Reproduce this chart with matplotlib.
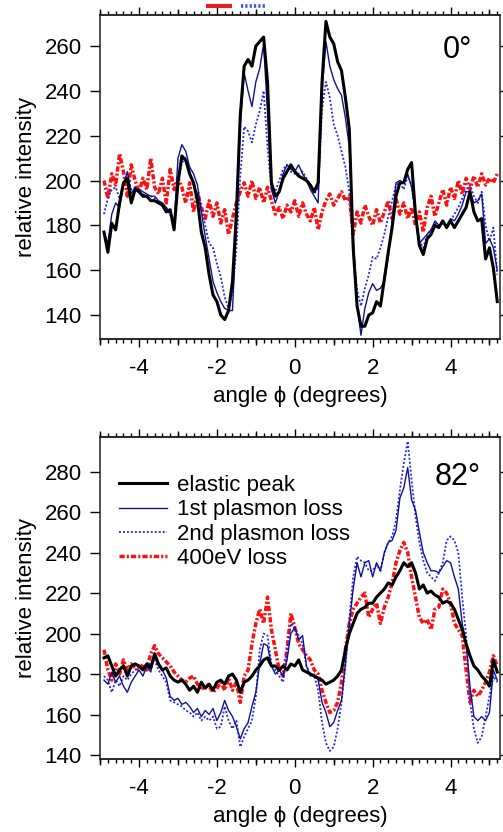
import numpy as np
import matplotlib
matplotlib.use('Agg')
import matplotlib.pyplot as plt
from matplotlib.ticker import FixedLocator, MultipleLocator, NullLocator

plt.rcParams['font.family'] = ['Liberation Sans', 'DejaVu Sans']
plt.rcParams['axes.unicode_minus'] = False

# ---------------- data ----------------
angle = np.round(np.arange(-4.9, 5.25, 0.1), 1)  # degrees, 102 samples

# panel 0 deg
top_elastic = [177, 168, 181, 178, 190, 199, 201, 190, 196, 195,
               193, 193, 191, 191, 190, 189, 186, 187, 178, 199,
               211, 209, 203, 199, 191, 177, 170, 158, 149, 146,
               140, 138, 142, 155, 185, 229, 251, 254, 251, 260,
               262, 264, 244, 199, 193, 195, 201, 204, 207, 204,
               202, 201, 200, 198, 195, 199, 244, 271, 264, 261,
               253, 249, 237, 223, 170, 144, 135, 135, 140, 141,
               146, 144, 156, 168, 179, 193, 199, 199, 205, 208,
               185, 171, 167, 174, 176, 180, 179, 182, 179, 182,
               179, 182, 185, 188, 195, 186, 182, 183, 165, 170,
               161, 146]
top_plasmon1 = [177, 172, 185, 190, 188, 198, 204, 194, 197, 196,
                195, 194, 193, 193, 191, 190, 188, 186, 180, 210,
                216, 213, 206, 203, 198, 186, 175, 165, 155, 150,
                146, 143, 142, 142, 180, 225, 248, 240, 233, 244,
                250, 261, 230, 196, 190, 195, 203, 207, 205, 204,
                207, 203, 200, 196, 193, 190, 240, 262, 251, 245,
                241, 238, 228, 215, 175, 145, 131, 143, 150, 154,
                151, 152, 155, 166, 182, 199, 200, 199, 203, 197,
                186, 172, 174, 176, 178, 182, 180, 181, 180, 183,
                182, 185, 189, 195, 195, 190, 191, 194, 172, 174,
                170, 160]
top_plasmon2 = [185, 192, 196, 197, 192, 198, 203, 196, 197, 195,
                194, 193, 193, 192, 190, 189, 187, 185, 179, 200,
                208, 210, 204, 198, 194, 188, 180, 172, 170, 163,
                157, 148, 143, 150, 170, 202, 224, 222, 217, 225,
                231, 240, 215, 196, 195, 200, 205, 207, 204, 203,
                203, 204, 201, 198, 194, 197, 232, 244, 237, 225,
                220, 213, 206, 195, 169, 151, 144, 152, 158, 166,
                165, 170, 176, 184, 191, 198, 199, 196, 202, 198,
                184, 173, 170, 176, 178, 181, 180, 181, 180, 182,
                185, 188, 192, 196, 198, 193, 190, 195, 180, 173,
                179, 158]
top_loss400 = [200, 192, 203, 198, 212, 204, 193, 207, 200, 195,
               201, 196, 210, 197, 194, 201, 190, 205, 196, 201,
               197, 190, 199, 186, 195, 188, 183, 191, 184, 190,
               181, 187, 176, 183, 190, 195, 199, 193, 200, 192,
               197, 190, 197, 191, 185, 188, 183, 189, 186, 191,
               184, 190, 185, 182, 188, 178, 186, 191, 194, 189,
               192, 195, 191, 193, 176, 186, 181, 189, 184, 180,
               187, 181, 186, 191, 183, 192, 185, 190, 183, 188,
               180, 186, 177, 188, 193, 184, 190, 196, 189, 197,
               192, 200, 194, 201, 196, 202, 197, 203, 198, 201,
               199, 203]

# panel 82 deg
bot_elastic = [188, 189, 184, 179, 182, 184, 179, 184, 185, 184,
               182, 185, 183, 190, 185, 182, 183, 179, 177, 176,
               177, 175, 172, 174, 171, 176, 173, 175, 172, 176,
               177, 175, 179, 180, 177, 171, 176, 177, 179, 182,
               184, 187, 188, 184, 184, 182, 184, 182, 185, 184,
               187, 182, 181, 180, 179, 178, 177, 175, 176, 177,
               179, 182, 192, 200, 205, 210, 212, 213, 215, 215,
               218, 220, 222, 225, 224, 228, 231, 235, 233, 235,
               230, 222, 224, 220, 221, 219, 218, 215, 216, 215,
               212, 207, 202, 195, 189, 184, 182, 179, 177, 174,
               187, 181]
bot_plasmon1 = [177, 175, 181, 176, 179, 174, 171, 176, 179, 182,
                179, 184, 181, 189, 184, 182, 178, 169, 167, 168,
                165, 166, 164, 161, 163, 159, 162, 160, 163, 157,
                161, 167, 162, 159, 154, 148, 153, 156, 164, 171,
                185, 195, 194, 184, 180, 182, 179, 187, 200, 203,
                197, 199, 184, 179, 180, 177, 166, 161, 154, 156,
                162, 167, 185, 205, 222, 235, 228, 235, 236, 228,
                235, 231, 240, 245, 246, 251, 267, 272, 282, 266,
                261, 250, 240, 235, 231, 231, 230, 233, 236, 235,
                228, 222, 205, 195, 174, 159, 157, 159, 157, 161,
                182, 177]
bot_plasmon2 = [179, 177, 171, 177, 174, 179, 177, 180, 182, 184,
                182, 185, 185, 187, 182, 179, 176, 167, 166, 165,
                164, 162, 161, 159, 161, 157, 159, 157, 159, 153,
                154, 164, 157, 153, 157, 144, 149, 153, 157, 169,
                192, 200, 199, 185, 182, 179, 176, 192, 205, 203,
                199, 195, 184, 180, 179, 172, 156, 146, 142, 144,
                153, 166, 184, 207, 228, 238, 236, 235, 231, 231,
                234, 231, 240, 245, 248, 256, 271, 284, 295, 276,
                258, 245, 236, 230, 228, 226, 230, 235, 246, 248,
                246, 240, 218, 199, 166, 153, 146, 149, 159, 169,
                179, 176]
bot_loss400 = [192, 182, 177, 185, 180, 187, 182, 185, 183, 182,
               185, 182, 190, 194, 190, 188, 186, 184, 181, 179,
               177, 176, 178, 179, 175, 172, 175, 174, 171, 173,
               176, 172, 178, 172, 176, 166, 179, 182, 195, 205,
               212, 205, 218, 202, 192, 182, 179, 192, 210, 203,
               195, 192, 189, 187, 182, 180, 172, 166, 161, 162,
               166, 176, 192, 205, 212, 215, 218, 220, 208, 212,
               215, 205, 213, 218, 225, 235, 241, 245, 240, 228,
               218, 208, 205, 207, 202, 212, 213, 222, 220, 215,
               205, 202, 199, 182, 166, 172, 169, 172, 176, 181,
               189, 184]

labels = ['elastic peak', '1st plasmon loss', '2nd plasmon loss', '400eV loss']
xticks = [-4, -2, 0, 2, 4]
top_yticks = [140, 160, 180, 200, 220, 240, 260]
bot_yticks = [140, 160, 180, 200, 220, 240, 260, 280]
red_bar = [-2.27, -1.61]
blue_bar = [-1.39, -0.71]

# ---------------- styles ----------------
st_el = dict(color='black', lw=2.2)
st_p1 = dict(color='#10109a', lw=1.0)
st_p2 = dict(color='#2828f0', lw=1.3, linestyle=(0, (1.1, 1.1)))
st_ls = dict(color='#ff1010', lw=2.5, linestyle=(0, (1.5, 0.6, 0.6, 0.6)))

fig = plt.figure(figsize=(5.03, 8.32), dpi=100)
ax1 = fig.add_axes([0.199, 0.5925, 0.795, 0.3894])
ax2 = fig.add_axes([0.199, 0.0874, 0.795, 0.3874])


def style(ax, ylim, yticks):
    ax.set_xlim(-5.0, 5.27)
    ax.set_ylim(*ylim)
    ax.xaxis.set_major_locator(FixedLocator(xticks))
    ax.xaxis.set_minor_locator(MultipleLocator(0.2))
    ax.yaxis.set_major_locator(FixedLocator(yticks))
    ax.yaxis.set_minor_locator(NullLocator())
    ax.tick_params(axis='x', which='both', top=True, bottom=True, direction='out')
    ax.tick_params(axis='x', which='major', length=5.8, width=1, labelsize=16, pad=7.7)
    ax.tick_params(axis='x', which='minor', length=2.9, width=1)
    ax.tick_params(axis='y', which='major', left=True, right=True, direction='out',
                   length=7.2, width=1, labelsize=16, pad=6)
    for sp in ax.spines.values():
        sp.set_linewidth(1.1)
        sp.set_color('#222222')
    for side in ['top', 'bottom']:
        sec = ax.secondary_xaxis(side)
        sec.xaxis.set_major_locator(FixedLocator([-5, -3, -1, 1, 3, 5]))
        sec.xaxis.set_minor_locator(NullLocator())
        sec.tick_params(length=4.3, width=1, direction='out',
                        labelbottom=False, labeltop=False)
        sec.spines[side].set_linewidth(1.1)
        sec.spines[side].set_color('#222222')
    ax.set_xlabel('angle \u03d5 (degrees)', fontsize=16)
    ax.set_ylabel('relative intensity', fontsize=16)
    ax.xaxis.set_label_coords(0.5, -0.178)
    ax.xaxis.label.set_va('center')
    ax.yaxis.set_label_coords(-0.185, 0.5)
    ax.yaxis.label.set_va('center')


for ax, data in [(ax1, (top_elastic, top_plasmon1, top_plasmon2, top_loss400)),
                 (ax2, (bot_elastic, bot_plasmon1, bot_plasmon2, bot_loss400))]:
    el, p1, p2, ls = data
    ax.plot(angle, el, label=labels[0], zorder=5, **st_el)
    ax.plot(angle, p1, label=labels[1], zorder=4, **st_p1)
    ax.plot(angle, p2, label=labels[2], zorder=3, **st_p2)
    ax.plot(angle, ls, label=labels[3], zorder=2, **st_ls)

style(ax1, (129.3, 273.8), top_yticks)
style(ax2, (137.9, 297.1), bot_yticks)

ax1.text(0.93, 0.866, '0\u00b0', transform=ax1.transAxes, fontsize=22,
         ha='right', va='baseline')
ax2.text(0.952, 0.851, '82\u00b0', transform=ax2.transAxes, fontsize=22,
         ha='right', va='baseline')

# angle-range markers above the top panel
trans = ax1.get_xaxis_transform()
ax1.plot(red_bar, [1.028, 1.028], transform=trans, color='#e02020', lw=3.0,
         clip_on=False, solid_capstyle='butt')
ax1.plot(blue_bar, [1.028, 1.028], transform=trans, color='#3050ff', lw=2.6,
         linestyle=(0, (0.6, 0.6)), clip_on=False)

ax2.legend(loc='upper left', bbox_to_anchor=(0.0475, 0.882), frameon=False,
           fontsize=16, handlelength=2.16, handletextpad=0.45,
           labelspacing=0.15, borderpad=0, borderaxespad=0)

fig.savefig('out.png', dpi=100)
